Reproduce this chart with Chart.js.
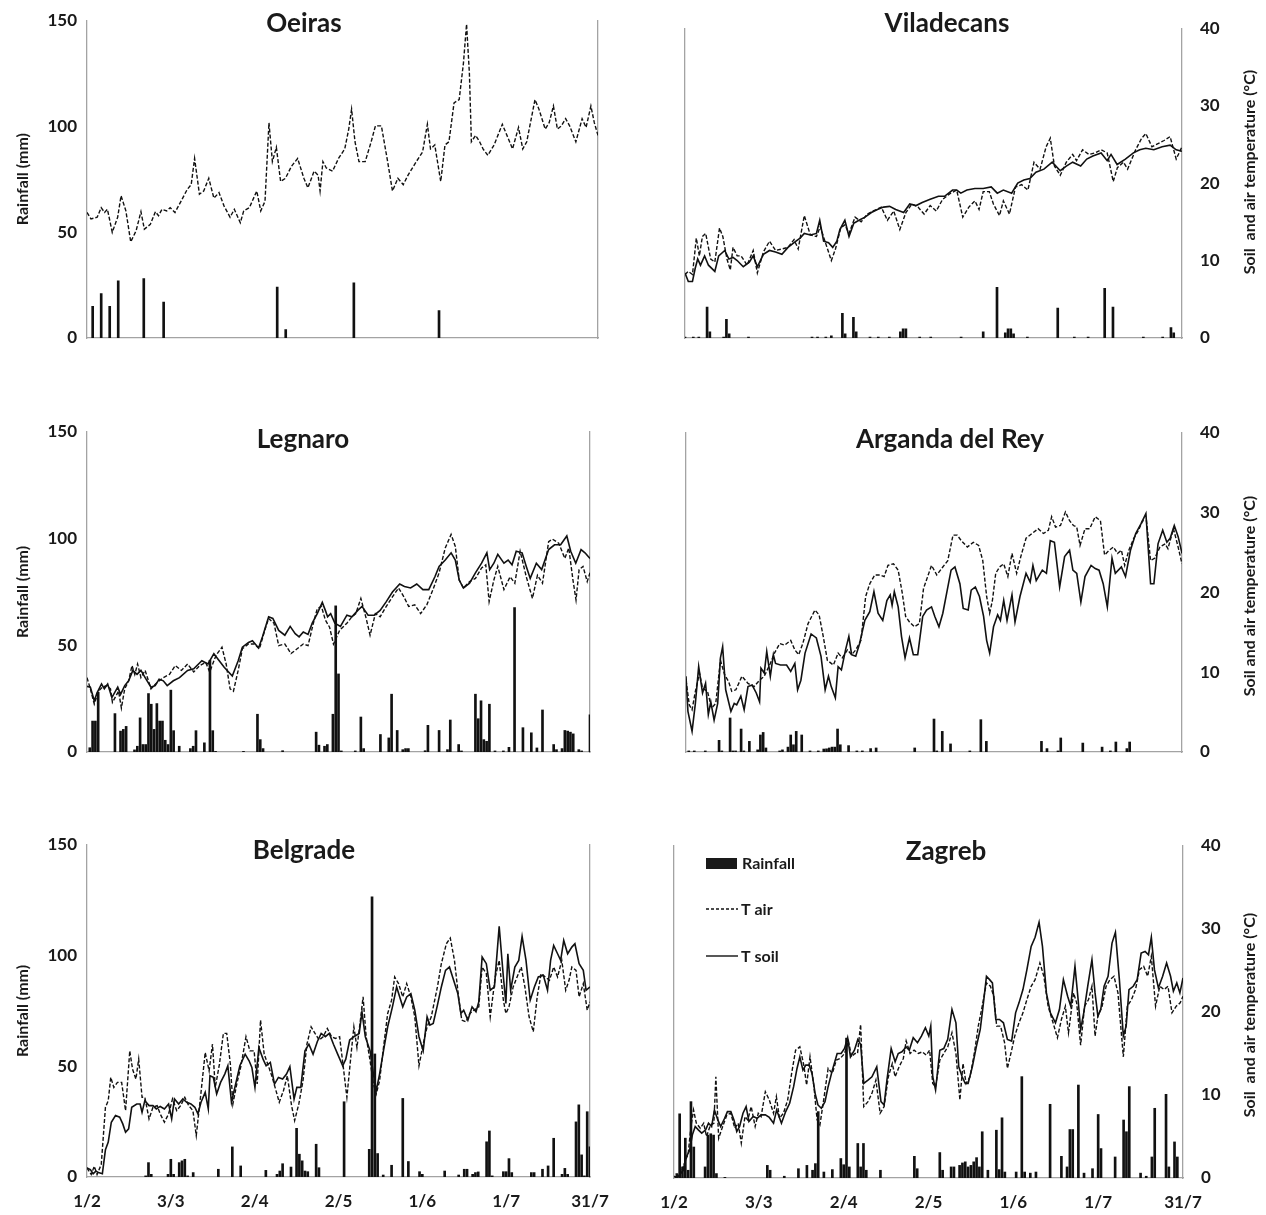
<!DOCTYPE html>
<html>
<head>
<meta charset="utf-8">
<script src="https://cdn.jsdelivr.net/npm/chart.js@4.4.1/dist/chart.umd.min.js"></script>
<style>
  body { margin: 0; background: #fff; }
  #page { position: relative; width: 1266px; height: 1215px; }
  canvas { position: absolute; }
</style>
</head>
<body>
<div id="page">
  <canvas id="oeiras"></canvas>
  <canvas id="viladecans"></canvas>
  <canvas id="legnaro"></canvas>
  <canvas id="arganda"></canvas>
  <canvas id="belgrade"></canvas>
  <canvas id="zagreb"></canvas>
</div>
<script>
// x values are days after 1 February, temperatures in °C, rainfall in mm

const dateLabels = ['1/2', '3/3', '2/4', '2/5', '1/6', '1/7', '31/7'];

// Oeiras
const oeirasRain = [[2,15],[5,21],[8,15],[11,27],[20,28],[27,17],[67,24],[70,4],[94,26],[124,13]];
const oeirasAir = [[0,15.8],[1.4,15.0],[3.6,15.2],[5,16.4],[6.2,15.8],[7.2,16.2],[8.9,13.3],[10.8,15.2],[12,17.9],[13.7,16.0],[15.4,12.1],[17.3,13.5],[19,15.9],[20.2,13.7],[22.3,14.3],[24.1,15.9],[25.2,15.4],[26.4,16.2],[28.1,16.0],[29.3,16.4],[31,15.8],[33.1,17.2],[35.3,18.7],[36.7,19.3],[37.9,22.6],[39.6,18.1],[41.1,18.5],[42.9,20.1],[44.7,17.6],[46.5,18.3],[48.3,16.6],[50.4,15.2],[51.9,16.2],[54,14.5],[55.2,16.0],[57.2,16.4],[59.8,18.5],[61.2,16.0],[62.7,17.2],[64.1,27.1],[65.3,22.2],[66.7,24.0],[68.2,19.7],[69.9,20.1],[72,21.6],[74.2,22.6],[76.4,20.1],[77.8,18.9],[80,21.0],[81.4,20.5],[82.1,18.5],[83.1,22.2],[84.3,21.4],[86.5,21.0],[88.6,22.6],[90.8,23.8],[92.2,26.3],[93.2,28.8],[94.4,24.7],[95.8,22.2],[98,22.2],[100.1,24.7],[101.6,26.7],[103.7,26.7],[105.9,22.2],[107.6,18.5],[109.5,20.1],[111.4,19.3],[113.1,20.5],[116,22.2],[118.2,23.4],[119.9,26.9],[121,23.8],[122.5,24.3],[124.6,19.7],[126.1,24.3],[127.5,24.7],[129.3,29.6],[131.1,30.0],[132.6,34.6],[133.7,39.5],[134.7,33.3],[135.4,24.7],[136.9,25.5],[138.3,24.7],[139.5,23.8],[141.2,23.0],[143.4,24.3],[146.3,26.9],[148.4,25.1],[149.9,23.8],[152,26.5],[153.5,23.8],[154.9,24.7],[157.8,30.0],[159.2,28.8],[161.4,26.3],[162.8,27.1],[164.3,29.2],[165.7,26.3],[167.1,26.7],[168.6,27.6],[170,26.7],[172.2,24.7],[174.4,27.6],[175.8,26.5],[177.5,29.2],[178.7,27.1],[180,25.5]];

// Viladecans
const vilaRain = [[0,0.5],[3,0.5],[5,0.5],[8,15],[9,3],[14,0.5],[15,9],[16,2],[23,0.5],[46,0.5],[48,0.5],[51,0.5],[53,1],[57,12],[58,2],[61,10],[62,3],[67,0.5],[70,0.5],[74,0.5],[78,3],[79,4.5],[80,4.5],[85,0.5],[89,0.5],[100,0.5],[108,3],[113,24.5],[116,2.5],[117,4.5],[118,4.5],[119,2],[124,0.5],[135,14.5],[141,0.5],[146,0.5],[152,24],[155,15],[166,0.5],[173,0.5],[176,5],[177,2.5]];
const vilaSoil = [[0,8.4],[1.2,7.3],[2.7,7.3],[3.7,9.0],[4.6,10.2],[5.6,9.4],[7.1,10.6],[8.5,9.4],[10.8,8.6],[12.2,10.6],[14.4,11.3],[15.9,10.2],[17.4,10.4],[18.9,10.0],[21.1,9.2],[23.3,9.8],[24.7,10.6],[26.2,9.2],[28.4,10.8],[30.6,11.3],[32.8,11.1],[35.1,10.8],[37.3,11.7],[40.2,12.5],[41.7,12.9],[43.2,13.5],[45.4,13.3],[47.6,13.5],[48.8,15.2],[50.2,12.5],[52,12.3],[53.5,11.7],[55,12.5],[56.1,14.0],[57.9,15.2],[59.4,13.1],[61.1,14.8],[63,15.2],[65.2,15.6],[67.5,16.2],[69.7,16.6],[71.9,16.9],[74.1,17.0],[76.3,16.6],[79.2,16.2],[81.4,17.3],[83.7,17.1],[85.9,17.5],[88.8,17.9],[91.8,18.3],[94,18.3],[96.9,19.1],[98.4,19.1],[99.9,18.7],[102.1,19.1],[105,19.3],[108,19.3],[110.9,19.5],[113.1,18.7],[115.3,19.1],[118.3,18.7],[120.5,20.0],[122.7,20.4],[124.9,20.6],[127.1,21.4],[130,21.8],[133,22.7],[135.9,21.6],[138.1,22.2],[140.4,22.7],[143.3,22.2],[145.5,23.1],[147.7,23.5],[150.7,23.9],[152.9,22.9],[154.3,23.7],[156.5,22.4],[159.5,23.1],[162.4,23.9],[164.7,24.3],[166.9,24.5],[169.8,24.3],[172.8,24.7],[175.7,24.9],[177.9,24.3],[180,24.1]];
const vilaAir = [[0,8.2],[1.2,8.6],[2.7,8.2],[4.1,12.9],[5.2,10.6],[6.3,13.1],[7.5,13.5],[9.3,10.2],[10.8,9.8],[12.5,14.2],[13.7,13.1],[15.2,10.2],[16.4,8.8],[17.4,11.7],[18.9,10.6],[20.3,10.6],[22.5,9.4],[24.7,11.3],[26.2,8.4],[28.4,11.1],[30.6,12.5],[32.8,11.3],[35.1,11.5],[37.3,11.7],[39.5,12.7],[41,11.5],[43.2,15.8],[45.4,13.3],[47.6,13.1],[49,14.4],[50.5,12.7],[53,10.0],[54.5,11.5],[56.4,14.2],[57.9,14.6],[59.4,13.5],[61.6,15.6],[63.8,15.0],[66,16.0],[68.2,16.4],[71.1,16.9],[73.3,15.2],[75.6,16.4],[77.8,14.0],[80,16.2],[82.2,17.3],[84.4,16.9],[86.6,16.0],[88.8,17.1],[91,16.4],[93.3,17.9],[96.2,18.7],[98.4,19.1],[100.6,15.6],[102.8,16.9],[105,17.7],[106.5,16.6],[108,18.9],[110.2,18.9],[111.7,17.3],[113.9,15.8],[115.3,17.7],[117.5,16.0],[119.7,19.5],[121.9,19.8],[124.2,19.1],[126.4,22.7],[128.6,21.8],[130.8,24.7],[132.3,25.8],[133.8,22.2],[135.9,21.0],[138.1,22.7],[140.4,23.7],[141.8,22.9],[144,24.3],[146.3,23.7],[148.5,23.9],[150.7,24.3],[152.9,23.9],[155.1,20.2],[156.6,22.0],[158.8,22.7],[160.3,21.8],[163.2,24.3],[165.4,25.8],[166.9,26.4],[169.1,24.7],[171.3,25.1],[173.5,25.5],[175.7,26.0],[177.9,23.1],[180,24.7]];

// Legnaro
const legnaroRain = [[1,2],[2,14.5],[3,14.5],[4,28],[10,18],[12,9.8],[13,10.6],[14,12],[17,1],[18,2.7],[19,16],[20,3.5],[21,3.5],[22,27.4],[23,22.4],[24,10.6],[25,22.7],[26,14.5],[27,14.5],[28,5.5],[29,3.5],[30,29],[31,10],[33,2.7],[37,1.6],[38,2.7],[39,10],[42,4.3],[44,43],[45,10],[46,0.3],[56,0.3],[61,17.7],[62,5.8],[63,1.6],[70,0.6],[82,9.3],[83,3.2],[85,2.7],[86,3.5],[88,17.7],[89,68.5],[90,36.6],[91,0.5],[96,0.5],[98,16.4],[99,1.6],[105,8.2],[108,6.6],[109,27.1],[111,10.1],[113,1.1],[114,1.6],[115,1.6],[121,0.6],[122,12.5],[126,10.1],[129,1.1],[130,15],[133,3.5],[134,0.5],[139,27.1],[140,15.6],[141,24],[142,5.8],[143,5],[144,22.4],[146,0.5],[149,0.5],[151,2.2],[153,67.7],[156,11.4],[159,9],[161,1.9],[163,19.7],[167,3.5],[168,1.1],[170,1.6],[171,10.1],[172,9.8],[173,9.3],[174,8.5],[176,1.1],[177,0.5],[180,17.4]];
const legnaroSoil = [[0,8.2],[1.2,8.1],[2.6,6.4],[3.6,7.4],[5.2,8.5],[6.2,7.9],[7.4,8.5],[8.9,6.8],[11,8.1],[12,7.2],[13.5,8.3],[14.9,8.9],[16.4,10.2],[17.9,9.7],[19.3,10.2],[20.8,9.3],[22.9,8.1],[24.4,8.3],[25.8,9.1],[27.3,8.9],[28.7,8.3],[30.9,8.9],[33.1,9.3],[36,10.2],[38.2,10.4],[41.1,11.4],[43.3,11.0],[45.4,12.3],[46.9,11.6],[49.1,10.6],[52,9.5],[54.1,11.4],[55.6,13.1],[57.8,13.7],[59.2,13.9],[61.4,13.0],[62.8,14.4],[65,16.9],[66.5,16.7],[68.6,15.2],[70.8,14.6],[72.7,15.7],[74.5,14.8],[75.9,14.4],[77.4,15.0],[79.1,14.7],[80.6,16.1],[82.4,17.3],[84.2,18.7],[85.3,17.7],[86.1,16.9],[87.2,17.3],[88.7,16.1],[90.7,15.7],[93,17.1],[94.8,16.9],[96.9,17.7],[98.4,18.2],[100.6,17.1],[102.8,17.1],[104.9,17.7],[107.1,18.8],[109.3,20.0],[111.9,21.0],[113.6,20.7],[115.8,20.5],[118,21.0],[120.2,20.3],[122.3,20.3],[124.5,21.9],[126,23.2],[128.2,24.0],[130.3,24.9],[131.8,24.0],[133.2,21.5],[134.7,20.5],[136.9,21.1],[139,22.4],[141.2,23.6],[143.1,24.9],[144.1,22.8],[145.6,23.6],[147,24.7],[149.2,23.6],[150.7,24.0],[152.1,23.4],[153.6,25.1],[155.7,24.9],[157.2,23.2],[158.6,21.7],[160.8,23.6],[162.7,22.8],[165.2,25.3],[167.3,25.9],[169.5,25.9],[171.7,27.0],[173.1,25.1],[174.9,23.6],[176.8,25.3],[178.2,24.9],[180,24.2]];
const legnaroAir = [[0,9.3],[1.2,7.9],[2.6,6.0],[4.1,7.6],[5.5,8.1],[7,8.3],[8.4,7.9],[9.1,6.2],[11.3,7.6],[12.3,5.5],[13.5,7.9],[14.9,8.9],[16.1,10.8],[17.1,9.7],[18.1,11.0],[19.3,9.3],[20.8,10.2],[22.9,7.9],[25.1,8.7],[27.3,9.3],[29.5,9.7],[31.6,10.8],[33.8,10.2],[36,11.0],[38.2,10.0],[40.3,10.8],[42.5,11.2],[43.9,10.0],[46.2,12.1],[48.3,13.1],[49.8,11.0],[51.2,7.9],[52.4,7.6],[54.1,10.2],[55.6,12.9],[57.8,13.5],[59.9,13.5],[61.7,12.9],[63.6,15.2],[65,16.7],[66.9,16.1],[68.6,13.3],[70.8,13.5],[73,12.3],[75.2,12.9],[77.4,13.5],[79.1,13.3],[81,16.1],[82.4,17.9],[83.9,18.2],[85.3,16.5],[86.8,15.6],[88.2,13.5],[90.4,15.2],[93,16.1],[94.8,16.9],[96.2,17.3],[98,19.2],[99.9,16.7],[101.3,14.6],[103.2,17.3],[104.9,16.9],[107.1,18.2],[109.3,19.4],[111.5,20.5],[113.4,19.4],[115.1,18.2],[117.3,18.4],[119.4,17.3],[121.6,18.4],[123.8,20.3],[126,22.4],[128.2,25.5],[130.3,27.2],[131.8,25.7],[133.2,21.5],[134.7,20.5],[136.9,21.3],[139,21.7],[141.2,23.0],[142.7,23.4],[143.9,18.8],[145.6,21.5],[147,23.2],[149.2,20.3],[151.4,21.9],[153.1,21.1],[155,25.1],[157.2,21.9],[159.4,19.2],[161.2,22.1],[163,21.1],[165.2,26.3],[166.6,26.6],[168.8,26.1],[171,24.2],[172.4,25.5],[173.9,21.5],[175,19.0],[176.1,22.8],[177.5,23.2],[179,21.3],[180,22.4]];

// Arganda del Rey
const argandaRain = [[1,0.5],[3,0.5],[7,0.5],[12,5.5],[13,0.5],[16,16],[17,0.5],[18,0.5],[20,10.8],[21,0.5],[23,5],[26,1],[27,8],[28,9.2],[29,1.9],[34,0.5],[35,1],[37,2.3],[38,8],[39,3.4],[40,9.7],[42,8],[45,0.5],[48,0.5],[50,1.4],[51,1.5],[52,1.9],[53,2.3],[54,2.3],[55,10.8],[56,3.4],[59,3],[62,0.5],[64,0.5],[67,1.6],[69,1.9],[83,1.9],[90,15.5],[91,0.5],[93,9.7],[96,3.8],[103,0.5],[107,15.2],[109,5],[129,5],[131,1.6],[135,0.5],[136,6.6],[144,4.2],[151,2.3],[154,0.5],[156,4.7],[160,1.6],[161,4.7]];
const argandaSoil = [[0,9.5],[0.7,5.1],[2.2,2.6],[3.4,6.1],[4.6,10.7],[6,7.4],[7.1,8.6],[8.1,4.7],[9,6.3],[10.2,4.0],[11.5,6.1],[12.5,11.8],[13.3,13.2],[14.4,7.8],[16.3,5.1],[17.5,6.1],[18.4,5.9],[19.9,7.0],[21.1,5.3],[22.5,8.2],[24,8.4],[25.5,7.4],[26.7,6.3],[27.2,10.5],[28.4,9.9],[29.3,12.6],[30.6,9.5],[31.7,12.2],[32.5,11.1],[34.3,10.9],[36.5,10.9],[38,10.1],[39.5,11.1],[40.5,7.8],[41.7,9.0],[43.2,12.4],[45.4,14.8],[47.3,14.3],[49,12.0],[50.5,7.8],[51.7,9.5],[52.7,8.2],[54.2,6.8],[55.2,10.7],[56.4,10.3],[57.9,12.8],[59.1,14.5],[60.1,12.2],[61.6,12.0],[63,13.6],[64.9,16.5],[66.7,17.6],[68.2,20.1],[69.7,17.4],[71.4,16.5],[72.9,19.0],[74.1,19.7],[74.8,18.4],[75.6,20.1],[77,18.2],[78.2,14.5],[79.5,11.8],[81.1,14.3],[82.5,12.2],[84.1,12.2],[85.9,17.0],[87.3,17.8],[89.1,18.2],[90.3,17.0],[91.8,15.7],[93.2,17.4],[94.7,20.1],[96.2,22.8],[97.6,23.2],[99.4,21.1],[100.6,18.0],[102.4,17.8],[103.5,20.3],[105,20.7],[106.5,19.5],[108,17.0],[109.1,14.0],[110.2,12.4],[111.6,15.7],[113.1,17.2],[114.1,16.5],[115.3,19.0],[116.5,16.5],[118.3,19.7],[119.4,16.3],[121.2,19.5],[123.4,22.4],[124.9,21.3],[125.9,23.4],[127.1,21.5],[129.3,22.8],[130.8,22.4],[132.2,26.5],[133.7,26.3],[135.6,20.7],[137.4,24.5],[139.2,25.3],[140.4,22.8],[141.8,22.4],[143.3,18.8],[144.8,22.0],[147,23.4],[148.5,23.0],[149.9,22.8],[151.4,21.1],[152.9,18.2],[154.6,24.3],[155.8,22.4],[158,23.2],[159.5,22.0],[161.3,25.3],[163.2,27.4],[165.1,28.6],[166.9,29.9],[168.6,21.1],[169.8,21.1],[171.3,26.1],[173,27.8],[174.5,26.3],[175.7,26.8],[177.2,28.4],[178.6,27.0],[180,24.9]];
const argandaAir = [[0,9.0],[1.2,5.9],[2.2,5.3],[3.4,7.6],[4.9,9.9],[6,8.0],[7.8,7.6],[9.3,5.5],[10.8,6.1],[12.5,11.5],[14,9.7],[15.5,8.8],[16.6,7.6],[18.1,7.8],[20.3,9.5],[22.5,8.6],[24.7,8.2],[26.7,9.0],[28.4,9.5],[30.6,11.1],[32.1,12.4],[34,13.6],[35.8,13.4],[38,14.0],[39.5,12.8],[40.9,12.2],[42.4,13.6],[44.3,16.1],[46.8,17.8],[48.3,17.2],[49.8,14.5],[51.3,11.5],[53.5,10.9],[55.2,12.4],[56.7,11.8],[58.6,12.8],[60.1,12.2],[61.6,12.8],[63.5,14.0],[65.2,19.5],[66.7,21.1],[68.5,22.2],[70.4,22.2],[71.9,22.0],[73.3,23.4],[75.3,23.6],[77,22.8],[78.5,19.9],[79.7,17.0],[81.1,16.3],[82.9,15.7],[84.7,16.1],[86.2,20.5],[88.1,22.4],[89.1,23.4],[91,22.2],[93.2,23.2],[95,24.0],[96.9,27.2],[98.4,27.2],[99.9,26.5],[102.1,25.7],[104.3,26.3],[106.2,25.9],[107.7,24.0],[109.1,19.5],[110.2,17.4],[111.2,19.0],[112.4,22.4],[113.8,23.2],[115.3,23.6],[116.8,22.0],[118.3,24.9],[120,22.4],[121.5,24.5],[123.4,26.8],[125.6,27.4],[127.8,28.0],[129.7,27.4],[131.5,27.8],[132.7,29.5],[134.1,28.2],[135.9,28.4],[137.7,30.1],[139.2,29.0],[140.6,28.4],[141.8,28.2],[143,25.9],[144.8,28.0],[146.5,28.0],[148.5,29.5],[150.4,29.0],[151.9,24.7],[153.6,25.3],[155.1,25.7],[156.6,24.9],[158,25.3],[159.2,23.4],[160.7,25.3],[162.5,26.8],[164.2,27.8],[165.7,29.0],[167.1,29.0],[168.6,24.0],[170.1,24.3],[172,25.7],[173.9,26.1],[174.9,25.5],[176.9,28.0],[178.6,25.7],[180,23.6]];

// Belgrade
const belgradeRain = [[21,0.5],[22,6.5],[23,1.2],[29,1.2],[30,8],[31,1.2],[33,6.5],[34,7.3],[35,8],[36,0.5],[38,2],[47,3.5],[52,13.6],[55,5],[64,3],[68,1.2],[69,2.7],[70,6],[73,4.5],[75,22],[76,10.3],[77,7.3],[78,2.7],[79,2.4],[82,14.8],[83,4.2],[92,34],[101,12.5],[102,126.6],[103,55.6],[104,10.6],[106,0.9],[109,5.3],[113,35.5],[115,7],[119,2.4],[120,1.2],[128,2.7],[133,0.9],[135,3.5],[136,3.5],[138,1.2],[139,2],[140,2.3],[143,15.9],[144,20.8],[145,0.5],[149,2.4],[150,2.4],[151,8.3],[152,2],[159,2],[160,2],[163,3.5],[165,5],[167,17.5],[170,1.2],[171,3.9],[172,1.2],[175,24.9],[176,32.6],[177,10],[178,0.5],[179,29.5],[180,13.6]];
const belgradeSoil = [[0,1.1],[1.2,0.9],[2.2,0.4],[3.2,0.7],[4.4,0.5],[5.5,0.4],[6.6,3.3],[7.6,4.2],[8.7,6.6],[10.2,7.4],[11.7,7.2],[12.8,6.4],[13.8,5.4],[14.9,5.8],[16,8.4],[17.8,8.8],[19,8.8],[19.7,7.8],[20.7,9.2],[22.2,8.6],[23.6,8.6],[24.8,8.2],[26.2,8.5],[27.7,8.2],[29.2,8.8],[30.3,7.0],[31.3,9.4],[32.8,8.8],[34.3,9.4],[35.7,9.0],[37.2,8.8],[38.6,8.4],[39.7,7.6],[40.8,9.0],[42.3,10.2],[43.4,8.2],[44,12.2],[45.2,12.0],[46.4,10.0],[47.8,11.4],[49.3,12.4],[50.4,13.4],[51.7,9.0],[53.2,11.2],[54.7,13.4],[56.6,14.8],[58,14.0],[59,13.2],[60.1,10.8],[61.5,15.6],[63,14.2],[64.1,13.4],[65.6,13.8],[67.1,11.2],[68.5,12.0],[70,11.8],[71.4,12.4],[72.6,13.3],[74.1,9.4],[75.1,10.8],[76.5,10.8],[78,15.2],[79.4,16.0],[80.9,14.8],[82.4,16.3],[83.8,17.3],[85.3,16.9],[86.7,17.3],[88.2,16.0],[89.7,14.8],[91.5,13.4],[92.6,14.2],[94,16.5],[95.5,16.9],[97.4,17.3],[98.4,19.9],[99.6,16.9],[101.3,15.2],[102.5,12.4],[103.5,10.4],[104.7,12.4],[106.1,15.2],[107.6,18.1],[109.3,20.5],[110.8,22.9],[113,20.5],[114.4,21.7],[115.9,22.1],[117.3,20.1],[118.8,16.9],[120.3,15.2],[121.7,19.3],[122.7,18.3],[123.9,18.5],[125.4,20.7],[126.8,22.9],[128.3,24.9],[129.7,25.3],[131.2,23.7],[132.7,22.1],[133.8,19.7],[134.8,20.1],[136.3,18.9],[137.8,20.5],[139.2,19.9],[140.2,21.1],[141.4,26.5],[142.9,25.7],[144.3,22.5],[145.8,22.9],[147.5,30.2],[149,24.1],[149.9,20.9],[150.6,26.9],[151.6,22.5],[153.1,25.3],[154.5,26.1],[155.7,29.0],[157.1,26.1],[158.6,21.3],[160.1,22.9],[161.5,24.1],[163.3,24.3],[164.8,22.5],[165.9,26.1],[167,27.9],[168.4,26.9],[169.5,26.1],[170.6,28.5],[172,26.9],[173.5,27.7],[174.6,28.1],[176.1,25.7],[177.6,24.9],[178.6,22.5],[180,22.9]];
const belgradeAir = [[0,1.1],[1.5,0.3],[2.6,1.3],[3.6,0.3],[5.1,1.5],[6.6,8.4],[7.6,9.2],[8.5,12.0],[9.6,10.8],[10.9,11.4],[12.4,11.4],[13.8,8.0],[15.3,15.2],[16.3,13.0],[17.5,11.8],[18.5,14.2],[19.7,9.6],[20.7,9.6],[22.2,7.0],[23.6,8.4],[25.1,8.6],[26.2,7.6],[27.7,6.6],[29.2,7.6],[30.6,9.4],[32.1,8.0],[33.5,8.6],[35,9.6],[36.4,8.6],[37.9,8.0],[39.1,5.0],[40.8,10.2],[42.3,15.0],[43.7,12.8],[44.9,16.0],[45.9,10.8],[47.4,13.6],[48.8,17.3],[50,17.3],[51.3,13.6],[52.2,8.8],[53.6,11.2],[55.1,13.4],[56.9,16.9],[58.3,15.2],[59.8,15.2],[60.9,11.2],[62.1,18.9],[63.4,14.8],[64.9,13.4],[66.3,12.0],[67.3,10.8],[68.8,9.0],[70.3,10.4],[71.7,12.2],[73.2,8.6],[74.3,6.8],[75.8,8.8],[77.3,11.6],[78.7,16.0],[80.2,18.1],[81.6,17.3],[83.1,16.5],[84.5,16.9],[86,17.9],[87.5,16.9],[88.9,16.7],[90.4,16.9],[91.8,13.0],[93,9.6],[94.5,14.8],[95.5,18.1],[96.6,15.6],[97.7,18.5],[98.8,21.7],[99.9,16.9],[101.3,14.0],[102.5,11.2],[103.5,10.0],[104.7,11.6],[106.1,15.6],[107.6,19.7],[109,21.3],[110.1,24.1],[111.5,23.3],[113,21.7],[114.4,23.3],[115.9,21.7],[117.3,19.3],[118.8,13.4],[120.3,16.0],[121.7,18.1],[123.2,19.3],[125.4,22.9],[126.8,25.7],[128.6,28.1],[130,28.8],[131.5,26.1],[132.9,21.9],[134.1,18.9],[135.6,18.7],[137,19.7],[138.5,20.1],[140.2,20.5],[141.4,25.3],[142.9,24.5],[144.3,19.3],[146.1,24.1],[147.5,26.1],[149,21.3],[149.9,19.7],[151,20.5],[152.5,22.9],[153.9,24.1],[155.4,25.3],[156.7,22.9],[158.2,19.3],[159.7,17.5],[161.1,21.7],[162.5,24.5],[164,24.1],[165.5,23.7],[167,25.3],[168.4,24.1],[169.9,26.1],[171.3,22.5],[172.5,23.7],[173.5,25.3],[175,24.9],[176.1,21.7],[177.6,23.3],[179,20.1],[180,21.1]];

// Zagreb
const zagrebRain = [[1,2],[2,29],[3,5],[4,18],[5,3.5],[6,34.5],[7,14],[11,5],[12,19.4],[13,20],[14,19.4],[15,2],[18,0.3],[33,5.7],[34,3.5],[39,0.8],[44,4.2],[47,5.7],[49,3.5],[50,6.5],[51,30],[53,2.7],[56,3.8],[59,8.8],[60,6],[61,63.2],[62,5],[65,15.6],[66,5],[67,15.6],[68,3.5],[73,3.5],[85,9.8],[86,4.2],[94,11.5],[95,3.5],[98,5],[99,5],[101,5.7],[102,6.8],[103,7.3],[104,5],[105,5.7],[106,7.3],[107,9.2],[108,5],[109,20.9],[111,3.5],[114,21.6],[115,3.8],[116,27.2],[117,2.7],[121,2.7],[123,45.8],[124,2.7],[126,2.2],[128,2.7],[133,33.3],[137,9.8],[139,5],[140,21.9],[141,21.9],[143,42],[145,2.2],[148,4.2],[150,28.7],[151,13.3],[156,9.5],[159,26.2],[160,20.9],[161,41.3],[165,2.2],[167,0.8],[169,9.5],[170,31.5],[174,37.8],[175,5],[177,16.3],[178,9.5]];
const zagrebSoil = [[0,0.2],[1.1,0.0],[2.2,0.5],[3.2,0.9],[4.3,2.5],[5.5,3.3],[6.5,5.2],[7.5,6.2],[8.6,5.8],[9.8,5.4],[11.2,5.8],[12.2,6.6],[13.3,6.2],[14.3,8.2],[15.5,7.0],[16.5,6.2],[17.9,7.2],[18.9,8.0],[20.1,8.0],[21.2,7.0],[22.2,5.6],[23.2,6.2],[24.4,7.8],[25.5,8.6],[26.5,6.8],[28,7.4],[29.4,7.2],[30.8,7.6],[32.3,7.6],[33.7,7.3],[35.2,6.6],[36.3,8.2],[38,6.6],[39.5,8.0],[40.9,9.0],[42.3,11.0],[43.5,13.2],[44.5,14.6],[45.6,13.0],[46.6,13.6],[47.8,13.6],[48.8,12.6],[49.9,10.2],[50.9,8.8],[52.1,8.4],[53.4,9.2],[54.5,11.0],[56,13.0],[57.7,15.0],[59.1,15.0],[60.3,15.6],[61.4,16.9],[62.4,14.6],[63.8,15.4],[65,16.7],[66,16.1],[67.1,11.4],[68.6,11.8],[70,12.2],[71.7,13.4],[73.2,9.2],[74.3,8.8],[75.3,11.8],[76.8,15.6],[78.2,14.0],[79.3,15.0],[80.6,15.2],[82.1,15.8],[83.2,15.4],[84.6,16.9],[86.1,16.3],[87.5,17.1],[88.9,18.1],[90.1,17.1],[90.8,18.3],[91.5,12.2],[92.5,10.6],[94,15.4],[95.4,15.6],[96.8,16.7],[98.3,20.3],[99.7,18.7],[100.7,13.4],[101.9,12.2],[103,11.4],[104,11.4],[105.5,13.4],[106.9,15.8],[108.3,17.9],[109.3,20.7],[110.5,24.3],[111.6,23.9],[112.6,23.5],[113.8,19.1],[115.1,19.1],[116.5,18.7],[117.9,16.7],[119.4,16.5],[120.8,19.9],[122,21.1],[123.4,22.7],[124.8,25.1],[126.3,27.9],[127.7,29.0],[129.1,30.8],[130.3,27.9],[131.7,22.3],[133.1,19.9],[134.9,18.7],[136.3,20.3],[137.7,23.9],[139.2,21.9],[140.3,20.7],[141.8,25.5],[142.8,21.9],[143.8,17.9],[144.9,19.9],[146.3,23.1],[147.8,26.3],[148.9,22.3],[149.9,19.5],[150.9,20.3],[152.1,23.1],[153.5,24.3],[154.9,28.3],[156.1,29.6],[157.5,23.9],[158.9,17.1],[159.9,18.3],[160.9,22.7],[162.4,23.1],[163.8,23.9],[165.2,27.1],[166.6,27.3],[167.8,26.9],[168.8,29.0],[169.9,25.1],[171.3,22.9],[172.8,24.3],[174.2,25.9],[175.6,24.3],[176.6,22.5],[177.8,23.5],[178.9,22.3],[180,24.1]];
const zagrebAir = [[0,0.2],[1.4,0.1],[2.6,0.7],[3.6,1.7],[5,2.9],[6,6.2],[6.9,8.2],[7.9,6.6],[9.3,6.0],[10.5,6.6],[11.5,5.0],[12.9,6.4],[14.1,6.6],[14.8,12.2],[15.8,4.8],[17.2,6.2],[18.7,7.6],[20.1,7.8],[21.5,6.0],[22.7,6.6],[23.8,4.2],[25.1,7.4],[26.1,7.0],[27.3,8.6],[28.7,6.2],[29.8,7.8],[30.8,7.4],[32.3,10.4],[33.7,9.4],[35.2,7.8],[36.2,9.8],[37.3,7.2],[38.7,7.8],[40.2,9.4],[41.6,12.6],[43,15.4],[44.5,15.8],[45.9,13.6],[46.9,11.2],[48.1,14.6],[49.5,11.0],[50.6,7.0],[51.6,6.4],[53.1,9.8],[54.5,13.2],[56,12.6],[57.4,14.2],[58.8,14.4],[60.3,15.0],[61.7,16.5],[62.8,14.6],[64,15.0],[64.9,15.0],[66,18.5],[67.1,8.6],[68.6,9.2],[70,10.2],[71.4,11.8],[72.9,7.8],[74.3,8.6],[75.8,12.2],[77.2,13.8],[78.2,12.2],[79.6,13.4],[81.1,14.4],[82.1,16.5],[83.5,15.0],[84.9,15.4],[86.4,15.0],[87.8,15.2],[89.2,14.8],[90.4,15.4],[91.5,11.4],[92.5,11.0],[94,14.2],[95.4,15.0],[96.8,15.8],[98.3,17.5],[99.7,15.0],[101.1,9.4],[102.2,13.8],[103.3,11.4],[104.7,12.2],[106.2,15.0],[107.6,18.3],[109,20.7],[110.5,23.5],[111.9,23.1],[113.1,21.9],[114.1,18.3],[115.5,18.3],[116.9,16.3],[117.9,13.2],[119.4,15.4],[120.5,17.1],[122,18.7],[123.4,19.9],[124.8,21.5],[126.3,23.1],[127.7,23.9],[129.4,25.9],[130.8,24.3],[132.3,20.7],[133.7,19.1],[135.6,16.9],[137,19.1],[138.4,20.7],[139.5,17.5],[141.3,22.3],[142.4,21.1],[143.8,16.0],[145.2,20.7],[146.6,21.5],[147.8,23.1],[148.9,17.1],[149.9,19.5],[151.4,20.7],[152.8,23.1],[154.2,23.9],[155.6,24.3],[157,22.3],[158.9,14.6],[160.3,20.7],[161.8,21.5],[163.2,22.7],[164.6,25.1],[166.1,25.5],[167.5,24.3],[168.8,26.7],[170.3,20.7],[171.8,23.1],[173.3,22.7],[174.7,23.1],[176.1,19.9],[177.6,20.7],[179,21.1],[180,21.9]];

const inkColor = '#1a1a1a';
const lineColor = '#111111';
const frameColor = '#a3a3a3';
const fontFamily = 'Lato, "Liberation Sans", sans-serif';

Chart.defaults.font.family = fontFamily;
Chart.defaults.font.weight = 'bold';
Chart.defaults.color = inkColor;
Chart.defaults.animation = false;

const toPoints = pairs => pairs.map(([x, y]) => ({ x, y }));

// panel name, right-hand axis title and the legend are drawn by hand
const panelText = {
    id: 'panelText',
    afterDraw(chart, args, opts) {
        const ctx = chart.ctx;
        ctx.save();
        ctx.fillStyle = inkColor;
        ctx.textAlign = 'center';
        ctx.textBaseline = 'middle';
        ctx.font = 'bold 26px ' + fontFamily;
        ctx.fillText(opts.name, opts.titleX, opts.titleY);

        if (opts.rightTitle) {
            ctx.save();
            ctx.font = 'bold 16px ' + fontFamily;
            ctx.translate(opts.rightTitle.x, opts.rightTitle.y);
            ctx.rotate(-Math.PI / 2);
            ctx.fillText(opts.rightTitle.text, 0, 0);
            ctx.restore();
        }

        if (opts.legend) {
            const lx = opts.legend.x, ly = opts.legend.y;
            ctx.font = 'bold 16px ' + fontFamily;
            ctx.textAlign = 'left';
            ctx.fillRect(lx, ly - 5, 31, 11);
            ctx.fillText('Rainfall', lx + 36, ly + 1);

            ctx.strokeStyle = lineColor;
            ctx.lineWidth = 1.4;
            ctx.setLineDash([3, 2]);
            ctx.beginPath();
            ctx.moveTo(lx, ly + 46);
            ctx.lineTo(lx + 32, ly + 46);
            ctx.stroke();
            ctx.fillText('T air', lx + 35, ly + 47);

            ctx.setLineDash([]);
            ctx.beginPath();
            ctx.moveTo(lx, ly + 93);
            ctx.lineTo(lx + 32, ly + 93);
            ctx.stroke();
            ctx.fillText('T soil', lx + 35, ly + 94);
        }
        ctx.restore();
    }
};

function makePanel(cfg) {
    const canvas = document.getElementById(cfg.id);
    canvas.width = cfg.w;
    canvas.height = cfg.h;
    canvas.style.left = cfg.x + 'px';
    canvas.style.top = cfg.y + 'px';

    const [pl, pt, pr, pb] = cfg.plot;
    const onLeft = cfg.side === 'left';
    const xH = cfg.dates ? 38 : 0;

    const datasets = [];
    if (cfg.soil) {
        datasets.push({
            type: 'line', label: 'T soil', data: toPoints(cfg.soil), yAxisID: 'temp',
            borderColor: lineColor, borderWidth: 1.6, pointRadius: 0, tension: 0
        });
    }
    datasets.push({
        type: 'line', label: 'T air', data: toPoints(cfg.air), yAxisID: 'temp',
        borderColor: lineColor, borderWidth: 1.4, borderDash: [4, 2], pointRadius: 0, tension: 0
    });
    datasets.push({
        type: 'bar', label: 'Rainfall', data: toPoints(cfg.rain), yAxisID: 'rain',
        backgroundColor: lineColor, barThickness: 2
    });

    new Chart(canvas, {
        type: 'bar',
        data: { datasets },
        options: {
            responsive: false,
            layout: {
                padding: {
                    left: onLeft ? 0 : pl,
                    right: onLeft ? cfg.w - pr : 0,
                    top: pt,
                    bottom: cfg.h - pb - xH
                }
            },
            scales: {
                x: {
                    type: 'linear', min: 0, max: 180, offset: false,
                    grid: { display: false, drawTicks: false, offset: false },
                    border: { color: frameColor, width: 1.3 },
                    ticks: {
                        display: !!cfg.dates, stepSize: 30, padding: 14, autoSkip: false, maxRotation: 0,
                        font: { size: 17 },
                        callback: v => dateLabels[v / 30]
                    },
                    afterFit: s => { s.height = xH; }
                },
                rain: {
                    position: 'left', min: 0, max: 150,
                    grid: { display: false, drawTicks: false },
                    border: { color: frameColor, width: 1.3 },
                    ticks: { display: onLeft, stepSize: 50, padding: 10, font: { size: 17 } },
                    title: { display: onLeft, text: 'Rainfall (mm)', font: { size: 16 }, padding: { top: 13 } },
                    afterFit: s => { s.width = onLeft ? pl : 0; }
                },
                temp: {
                    position: 'right', min: 0, max: 40,
                    grid: { display: false, drawTicks: false },
                    border: { color: frameColor, width: 1.3 },
                    ticks: { display: !onLeft, stepSize: 10, padding: 18, font: { size: 17 } },
                    afterFit: s => { s.width = onLeft ? 0 : cfg.w - pr; }
                }
            },
            plugins: {
                legend: { display: false },
                tooltip: { enabled: false },
                panelText: {
                    name: cfg.name, titleX: cfg.titleX, titleY: cfg.titleY,
                    rightTitle: cfg.rightTitle, legend: cfg.legend
                }
            }
        },
        plugins: [panelText]
    });
}

document.addEventListener('DOMContentLoaded', function () {
    makePanel({ id: 'oeiras', name: 'Oeiras', side: 'left', x: 0, y: 0, w: 630, h: 390,
        plot: [87, 17, 598, 338], titleX: 304, titleY: 24,
        rain: oeirasRain, air: oeirasAir });

    makePanel({ id: 'viladecans', name: 'Viladecans', side: 'right', x: 630, y: 0, w: 636, h: 390,
        plot: [55, 17, 552, 338], titleX: 317, titleY: 24,
        rightTitle: { text: 'Soil  and air temperature (°C)', x: 620, y: 172 },
        rain: vilaRain, air: vilaAir, soil: vilaSoil });

    makePanel({ id: 'legnaro', name: 'Legnaro', side: 'left', x: 0, y: 390, w: 630, h: 410,
        plot: [87, 42, 590, 362], titleX: 303, titleY: 50,
        rain: legnaroRain, air: legnaroAir, soil: legnaroSoil });

    makePanel({ id: 'arganda', name: 'Arganda del Rey', side: 'right', x: 630, y: 390, w: 636, h: 410,
        plot: [56, 43, 552, 362], titleX: 320, titleY: 50,
        rightTitle: { text: 'Soil and air temperature (°C)', x: 620, y: 206 },
        rain: argandaRain, air: argandaAir, soil: argandaSoil });

    makePanel({ id: 'belgrade', name: 'Belgrade', side: 'left', x: 0, y: 800, w: 630, h: 415,
        plot: [87, 45, 590, 377], titleX: 304, titleY: 51, dates: true,
        rain: belgradeRain, air: belgradeAir, soil: belgradeSoil });

    makePanel({ id: 'zagreb', name: 'Zagreb', side: 'right', x: 630, y: 800, w: 636, h: 415,
        plot: [44, 46, 553, 378], titleX: 316, titleY: 52, dates: true,
        rightTitle: { text: 'Soil  and air temperature (°C)', x: 620, y: 215 },
        legend: { x: 76, y: 63 },
        rain: zagrebRain, air: zagrebAir, soil: zagrebSoil });
});
</script>
</body>
</html>
